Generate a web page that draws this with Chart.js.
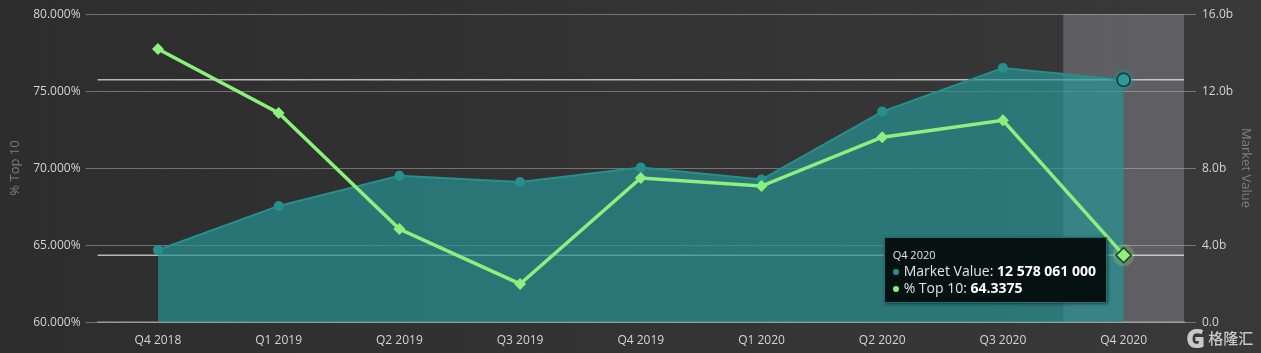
<!DOCTYPE html>
<html>
<head>
<meta charset="utf-8">
<title>Market Value and % Top 10</title>
<script src="https://cdn.jsdelivr.net/npm/chart.js@4"></script>
<style>
  html, body { margin: 0; padding: 0; }
  body { width: 1261px; height: 353px; overflow: hidden; position: relative;
         background: linear-gradient(90deg, #2d2d2d 0%, #3a393a 100%); font-family: "Open Sans", sans-serif; }
  canvas { position: absolute; left: 0; top: 0; }
  #tip { position: absolute; box-sizing: border-box; width: 223px; height: 66px; padding: 10px 0 0 8px;
         background: #061112; border: 1px solid #1d6f70; box-shadow: 1px 1px 3px rgba(0,0,0,.5); color: #dfe5e5; }
  #tip .ttl { font-size: 11px; line-height: 14px; }
  #tip .row { font-size: 14px; line-height: 17px; white-space: nowrap; }
  #tip b { color: #fff; }
  #tip i { display: inline-block; width: 6px; height: 6px; border-radius: 50%; margin: 0 5px 1px 0; vertical-align: middle; }
  #mark { position: absolute; left: 1186px; top: 325px; width: 75px; white-space: nowrap; color: #c9c9c9;
          font: 500 15px/26px "Noto Sans CJK SC", sans-serif; }
  #mark span { font: 800 26px/26px "Open Sans", sans-serif; margin-right: 3px; vertical-align: top; }
</style>
</head>
<body>
<canvas id="chart" width="1261" height="353"></canvas>
<div id="tip"></div>
<div id="mark"><span>G</span>格隆汇</div>
<script>
const quarters = ['Q4 2018', 'Q1 2019', 'Q2 2019', 'Q3 2019', 'Q4 2019', 'Q1 2020', 'Q2 2020', 'Q3 2020', 'Q4 2020'];
const marketValue = [3740000000, 6030000000, 7600000000, 7270000000, 8030000000, 7400000000, 10930000000, 13200000000, 12578061000];
const topTen = [77.73, 73.57, 66.04, 62.47, 69.35, 68.83, 72.0, 73.1, 64.3375];
const hoverIndex = 8;

const teal = '#26908c';
const green = '#8cf07c';
const labelFont = { family: 'Open Sans', size: 12 };
const labelColor = '#d4d4d4';
const gridColor = 'rgba(255,255,255,0.32)';

const spaced = function (n) {
  return String(n).replace(/\B(?=(\d{3})+$)/g, ' ');
};

// hover band and crosshairs go behind the marks, halos on top
const hoverPlugin = {
  id: 'hoverBand',
  beforeDatasetsDraw: function (chart) {
    const ctx = chart.ctx, a = chart.chartArea, x = chart.scales.x;
    const step = x.getPixelForTick(1) - x.getPixelForTick(0);
    const cx = x.getPixelForTick(hoverIndex);
    ctx.fillStyle = 'rgba(190,195,210,0.28)';
    ctx.fillRect(cx - step / 2, a.top, step, a.bottom - a.top);
    chart.getActiveElements().forEach(function (act) {
      ctx.save();
      ctx.strokeStyle = 'rgba(255,255,255,0.65)';
      ctx.lineWidth = 1.5;
      ctx.beginPath();
      ctx.moveTo(a.left, act.element.y);
      ctx.lineTo(a.right, act.element.y);
      ctx.stroke();
      ctx.restore();
    });
  },
  afterDatasetsDraw: function (chart) {
    const ctx = chart.ctx, a = chart.chartArea;
    chart.getActiveElements().forEach(function (act) {
      const p = act.element;
      ctx.save();
      ctx.fillStyle = act.datasetIndex === 0 ? 'rgba(38,144,140,0.35)' : 'rgba(140,240,124,0.25)';
      ctx.beginPath();
      ctx.arc(p.x, p.y, 11, 0, Math.PI * 2);
      ctx.fill();
      ctx.restore();
      p.draw(ctx, a);
    });
  }
};

const externalTip = function (context) {
  const tip = document.getElementById('tip');
  const t = context.tooltip;
  if (!t.dataPoints || !t.dataPoints.length) return;
  const colors = [teal, green];
  let html = '<div class="ttl">' + t.title[0] + '</div>';
  t.dataPoints.forEach(function (d) {
    const v = d.datasetIndex === 0 ? spaced(d.raw) : d.raw;
    html += '<div class="row"><i style="background:' + colors[d.datasetIndex] + '"></i>' + d.dataset.label + ': <b>' + v + '</b></div>';
  });
  tip.innerHTML = html;
  const greenPoint = t.dataPoints[1].element;
  tip.style.left = (greenPoint.x - 240) + 'px';
  tip.style.top = (greenPoint.y - 18) + 'px';
};

const config = {
  type: 'line',
  data: {
    labels: quarters,
    datasets: [
      {
        label: 'Market Value',
        data: marketValue,
        yAxisID: 'yRight',
        order: 2,
        borderColor: teal,
        borderWidth: 2,
        backgroundColor: 'rgba(38,150,150,0.68)',
        fill: 'origin',
        tension: 0,
        pointStyle: 'circle',
        pointRadius: 4,
        pointBackgroundColor: teal,
        pointBorderColor: teal,
        pointHoverRadius: 6.5,
        pointHoverBackgroundColor: '#2a9a98',
        pointHoverBorderColor: '#20383c',
        pointHoverBorderWidth: 1.5
      },
      {
        label: '% Top 10',
        data: topTen,
        yAxisID: 'yLeft',
        order: 1,
        borderColor: green,
        borderWidth: 3.5,
        fill: false,
        tension: 0,
        pointStyle: 'rectRot',
        pointRadius: 3.5,
        pointBackgroundColor: green,
        pointBorderColor: green,
        pointHoverRadius: 7.5,
        pointHoverBackgroundColor: green,
        pointHoverBorderColor: '#2c3a30',
        pointHoverBorderWidth: 1.5
      }
    ]
  },
  options: {
    responsive: false,
    animation: false,
    layout: { padding: { top: 14, left: 0, right: 0, bottom: 0 } },
    interaction: { mode: 'index', intersect: false },
    events: [],
    scales: {
      x: {
        offset: true,
        grid: { display: false },
        border: { color: 'rgba(255,255,255,0.28)', width: 2 },
        ticks: { color: labelColor, font: labelFont, padding: 3, maxRotation: 0 },
        afterFit: function (axis) { axis.height = 31; }
      },
      yLeft: {
        position: 'left',
        min: 60,
        max: 80,
        grid: { color: gridColor, tickLength: 12, lineWidth: 1 },
        border: { display: false },
        ticks: { stepSize: 5, color: labelColor, font: labelFont, padding: 5, labelOffset: 1,
                 callback: function (v) { return v.toFixed(3) + '%'; } },
        title: { display: true, text: '% Top 10', color: '#7d7d7d', font: { family: 'Open Sans', size: 13 }, padding: { top: 7, bottom: 0 } },
        afterFit: function (axis) { axis.width = 97.6; }
      },
      yRight: {
        position: 'right',
        min: 0,
        max: 16000000000,
        grid: { color: gridColor, tickLength: 12, lineWidth: 1, drawOnChartArea: false },
        border: { display: false },
        ticks: { stepSize: 4000000000, color: labelColor, font: labelFont, padding: 6, labelOffset: 1,
                 callback: function (v) { return v === 0 ? '0.0' : (v / 1e9).toFixed(1) + 'b'; } },
        title: { display: true, text: 'Market Value', color: '#7d7d7d', font: { family: 'Open Sans', size: 13 }, padding: { top: 7, bottom: 0 } },
        afterFit: function (axis) { axis.width = 77; }
      }
    },
    plugins: {
      legend: { display: false },
      tooltip: { enabled: false, external: externalTip }
    }
  },
  plugins: [hoverPlugin]
};

const chart = new Chart(document.getElementById('chart').getContext('2d'), config);
const active = [
  { datasetIndex: 0, index: hoverIndex },
  { datasetIndex: 1, index: hoverIndex }
];
chart.setActiveElements(active);
chart.tooltip.setActiveElements(active, { x: 0, y: 0 });
chart.update();
</script>
</body>
</html>
